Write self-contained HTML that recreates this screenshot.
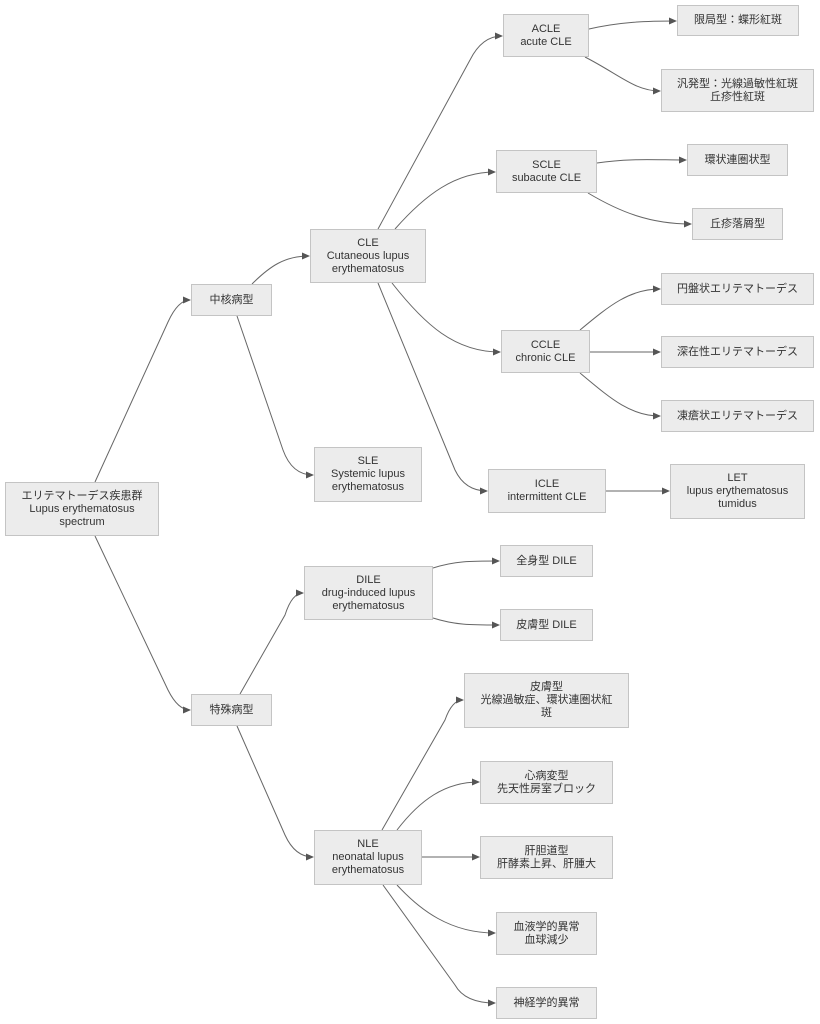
<!DOCTYPE html>
<html><head><meta charset="utf-8"><style>
html,body{margin:0;padding:0;background:#fff;}
#c{position:relative;width:820px;height:1024px;overflow:hidden;font-family:"Liberation Sans","Noto Sans CJK JP",sans-serif;font-size:11px;color:#333;}
.b{position:absolute;box-sizing:border-box;background:#ececec;border:1px solid #c4c4c4;display:flex;align-items:center;justify-content:center;text-align:center;line-height:13px;}
svg{position:absolute;left:0;top:0;}
</style></head><body><div id="c">
<svg width="820" height="1024"><defs><marker id="a" markerWidth="8" markerHeight="8" refX="7" refY="4" orient="auto" markerUnits="userSpaceOnUse"><path d="M0,0.5 L8,4 L0,7.5z" fill="#555"/></marker></defs>
<g fill="none" stroke="#666" stroke-width="1" marker-end="url(#a)">
<path d="M95,482 L168,322 Q178,300 190,300"/>
<path d="M95,536 L168,690 Q178,710 190,710"/>
<path d="M252,284 C270,266 285,256 309,256"/>
<path d="M237,316 L283,450 Q292,475 313,475"/>
<path d="M378,229 L470,60 Q482,36 502,36"/>
<path d="M395,229 C425,195 455,172 495,172"/>
<path d="M392,283 C425,325 455,352 500,352"/>
<path d="M378,283 L455,470 Q465,491 487,491"/>
<path d="M589,29 C620,22 645,21 676,21"/>
<path d="M585,57 C620,75 635,91 660,91"/>
<path d="M597,163 C630,158 655,160 686,160"/>
<path d="M588,193 C620,212 650,224 691,224"/>
<path d="M580,330 C610,305 630,289 660,289"/>
<path d="M590,352 L660,352"/>
<path d="M580,373 C610,398 630,416 660,416"/>
<path d="M606,491 L669,491"/>
<path d="M240,694 L285,615 Q292,593 303,593"/>
<path d="M237,726 L285,835 Q295,857 313,857"/>
<path d="M433,568 C455,561 470,561 499,561"/>
<path d="M433,618 C455,625 470,625 499,625"/>
<path d="M382,830 L445,720 Q452,700 463,700"/>
<path d="M397,830 C420,800 445,782 479,782"/>
<path d="M422,857 L479,857"/>
<path d="M397,885 C420,910 450,933 495,933"/>
<path d="M383,885 L455,985 Q465,1003 495,1003"/>
</g></svg>
<div class="b" style="left:5px;top:482px;width:154px;height:54px">エリテマトーデス疾患群<br>Lupus erythematosus<br>spectrum</div>
<div class="b" style="left:191px;top:284px;width:81px;height:32px">中核病型</div>
<div class="b" style="left:310px;top:229px;width:116px;height:54px">CLE<br>Cutaneous lupus<br>erythematosus</div>
<div class="b" style="left:314px;top:447px;width:108px;height:55px">SLE<br>Systemic lupus<br>erythematosus</div>
<div class="b" style="left:503px;top:14px;width:86px;height:43px">ACLE<br>acute CLE</div>
<div class="b" style="left:677px;top:5px;width:122px;height:31px">限局型：蝶形紅斑</div>
<div class="b" style="left:661px;top:69px;width:153px;height:43px">汎発型：光線過敏性紅斑<br>丘疹性紅斑</div>
<div class="b" style="left:496px;top:150px;width:101px;height:43px">SCLE<br>subacute CLE</div>
<div class="b" style="left:687px;top:144px;width:101px;height:32px">環状連圏状型</div>
<div class="b" style="left:692px;top:208px;width:91px;height:32px">丘疹落屑型</div>
<div class="b" style="left:501px;top:330px;width:89px;height:43px">CCLE<br>chronic CLE</div>
<div class="b" style="left:661px;top:273px;width:153px;height:32px">円盤状エリテマトーデス</div>
<div class="b" style="left:661px;top:336px;width:153px;height:32px">深在性エリテマトーデス</div>
<div class="b" style="left:661px;top:400px;width:153px;height:32px">凍瘡状エリテマトーデス</div>
<div class="b" style="left:488px;top:469px;width:118px;height:44px">ICLE<br>intermittent CLE</div>
<div class="b" style="left:670px;top:464px;width:135px;height:55px">LET<br>lupus erythematosus<br>tumidus</div>
<div class="b" style="left:304px;top:566px;width:129px;height:54px">DILE<br>drug-induced lupus<br>erythematosus</div>
<div class="b" style="left:500px;top:545px;width:93px;height:32px">全身型 DILE</div>
<div class="b" style="left:500px;top:609px;width:93px;height:32px">皮膚型 DILE</div>
<div class="b" style="left:191px;top:694px;width:81px;height:32px">特殊病型</div>
<div class="b" style="left:314px;top:830px;width:108px;height:55px">NLE<br>neonatal lupus<br>erythematosus</div>
<div class="b" style="left:464px;top:673px;width:165px;height:55px">皮膚型<br>光線過敏症、環状連圏状紅<br>斑</div>
<div class="b" style="left:480px;top:761px;width:133px;height:43px">心病変型<br>先天性房室ブロック</div>
<div class="b" style="left:480px;top:836px;width:133px;height:43px">肝胆道型<br>肝酵素上昇、肝腫大</div>
<div class="b" style="left:496px;top:912px;width:101px;height:43px">血液学的異常<br>血球減少</div>
<div class="b" style="left:496px;top:987px;width:101px;height:32px">神経学的異常</div>
</div></body></html>
